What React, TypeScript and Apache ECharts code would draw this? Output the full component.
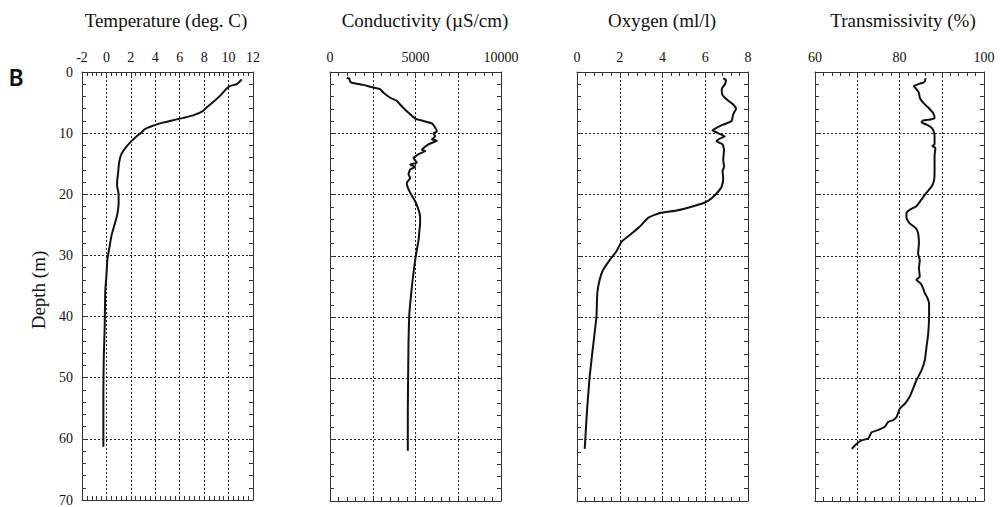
import React, { useEffect, useRef } from "react";
import * as echarts from "echarts";

// Temperature profile (deg. C vs depth m)
const tempDepth = [1.2, 1.6, 2.0, 2.3, 2.8, 3.9, 4.9, 5.8, 6.4, 7.1, 7.5, 8.0, 8.4, 8.8, 9.1, 9.4, 9.9, 10.3, 11.3, 12.2, 13.4, 14.8, 16.4, 18.1, 18.6, 19.7, 21.3, 23.5, 25.2, 26.8, 29.0, 30.6, 33.3, 36.0, 41.5, 46.9, 52.4, 57.8, 61.3];
const tempValues = [11.07, 10.9, 10.65, 10.1, 9.8, 9.3, 8.74, 8.2, 7.9, 7.1, 6.3, 5.2, 4.37, 3.8, 3.4, 3.1, 2.87, 2.6, 2.05, 1.64, 1.23, 1.04, 0.96, 0.87, 0.87, 0.98, 1.0, 0.87, 0.63, 0.41, 0.22, 0.08, 0, -0.1, -0.14, -0.22, -0.25, -0.25, -0.25];

// Conductivity profile (uS/cm)
const condDepth = [0.93, 1.1, 1.5, 1.75, 1.9, 2.1, 2.4, 2.8, 3.4, 4.2, 4.7, 5.3, 6.4, 6.9, 7.6, 8.0, 8.4, 9.1, 9.7, 10.0, 10.5, 11.0, 11.2, 11.8, 12.7, 12.9, 13.4, 13.7, 14.0, 14.8, 15.1, 15.5, 15.9, 16.7, 17.3, 18.1, 18.7, 19.7, 21.1, 22.5, 23.6, 24.7, 25.8, 27.4, 29.0, 30.7, 32.8, 35.0, 37.8, 39.9, 44.3, 49.8, 55.2, 61.8];
const condValues = [980, 1130, 1170, 1270, 1560, 1950, 2340, 2930, 3130, 3520, 3910, 4100, 4490, 4690, 4980, 5470, 5960, 6150, 6250, 6050, 6150, 5960, 6250, 5760, 5370, 5570, 5170, 5040, 4880, 5080, 4690, 4980, 4690, 4590, 4690, 4490, 4530, 4690, 4980, 5180, 5270, 5270, 5230, 5180, 5080, 4980, 4880, 4790, 4690, 4630, 4590, 4570, 4550, 4550];

// Oxygen profile (ml/l)
const oxyDepth = [1.04, 1.3, 2.0, 2.8, 3.7, 4.7, 5.3, 6.0, 6.9, 8.0, 8.6, 9.1, 9.5, 10.0, 10.5, 10.9, 11.3, 11.8, 12.7, 14.3, 15.4, 16.2, 17.3, 18.7, 19.5, 20.6, 21.3, 21.9, 22.6, 23.0, 23.8, 25.2, 26.6, 27.7, 29.3, 30.7, 32.3, 33.9, 36.1, 39.9, 44.8, 49.8, 55.2, 61.5];
const oxyValues = [6.84, 6.97, 6.92, 6.77, 6.8, 7.08, 7.31, 7.44, 7.31, 7.23, 6.84, 6.53, 6.34, 6.61, 6.92, 6.66, 6.53, 6.81, 6.88, 6.84, 6.88, 6.81, 6.84, 6.77, 6.61, 6.3, 5.98, 5.44, 4.66, 3.88, 3.33, 2.94, 2.47, 2.08, 1.84, 1.53, 1.22, 1.06, 0.95, 0.91, 0.75, 0.59, 0.47, 0.36];

// Transmissivity profile (%)
const trDepth = [1.04, 1.5, 1.75, 1.9, 2.3, 2.8, 3.4, 4.2, 5.0, 5.8, 6.7, 7.5, 7.7, 7.9, 8.2, 8.6, 9.1, 9.7, 10.5, 11.8, 12.1, 12.4, 13.7, 15.9, 17.6, 18.7, 19.7, 20.8, 21.9, 22.5, 23.0, 23.8, 24.7, 25.5, 26.3, 27.9, 29.6, 30.7, 32.0, 33.4, 33.9, 34.5, 35.3, 36.1, 36.7, 37.8, 39.9, 42.7, 44.8, 47.0, 48.7, 50.3, 51.7, 53.0, 54.1, 54.9, 56.3, 56.8, 57.1, 57.9, 58.4, 58.8, 59.8, 60.1, 60.7, 61.5];
const trValues = [86.2, 86.0, 85.6, 84.8, 83.4, 84.0, 84.6, 84.8, 85.6, 86.8, 87.95, 88.3, 87.6, 85.6, 85.2, 86.4, 87.6, 88.1, 88.3, 88.3, 87.8, 88.5, 88.3, 88.3, 88.2, 87.6, 86.4, 85.2, 84.0, 82.4, 81.65, 81.65, 82.4, 83.9, 84.4, 84.6, 84.4, 84.8, 84.6, 84.8, 84.0, 85.0, 85.6, 86.0, 86.5, 87.0, 87.0, 86.8, 86.4, 86.0, 85.2, 84.0, 83.2, 82.4, 81.3, 80.1, 79.3, 78.5, 77.3, 76.5, 75.0, 73.4, 72.6, 71.0, 69.8, 68.7];

const titles = ["Temperature (deg. C)", "Conductivity (\u00B5S/cm)", "Oxygen (ml/l)", "Transmissivity (%)"];
const xMins = [-2, 0, 0, 60];
const xMaxs = [12, 10000, 8, 100];
const xIntervals = [2, 2500, 2, 10];
const xLabelSteps = [2, 5000, 2, 20];
const depthMin = 0;
const depthMax = 70;
const depthInterval = 10;
const yAxisTitle = "Depth (m)";
const panelLabel = "B";

const SERIF = "'Liberation Serif', serif";
const INK = "#111";
const FRAME = "#333";

export default function App() {
  const ref = useRef<HTMLDivElement>(null);
  useEffect(() => {
    const chart = echarts.init(ref.current!, null, { renderer: "svg" });
    const lefts = [82, 330, 577, 815];
    const widths = [171, 171, 171, 169];
    const titleCenters = [166, 425, 662, 903];
    const top = 72;
    const height = 429;
    const depths = [tempDepth, condDepth, oxyDepth, trDepth];
    const values = [tempValues, condValues, oxyValues, trValues];

    const grid: any[] = [];
    const xAxis: any[] = [];
    const yAxis: any[] = [];
    const series: any[] = [];
    const graphic: any[] = [];

    const tickCommon = {
      axisLine: { show: true, onZero: false, lineStyle: { color: FRAME, width: 1 } },
      axisTick: { show: true, inside: true, length: 4, lineStyle: { color: FRAME, width: 1 } },
      minorTick: { show: true, splitNumber: 5, length: 4, lineStyle: { color: FRAME, width: 1 } },
    };

    for (let i = 0; i < 4; i++) {
      grid.push({ left: lefts[i], top, width: widths[i], height, containLabel: false });
      const step = xLabelSteps[i];
      const xBase = {
        type: "value",
        gridIndex: i,
        min: xMins[i],
        max: xMaxs[i],
        interval: xIntervals[i],
        ...tickCommon,
      };
      xAxis.push({
        ...xBase,
        position: "top",
        splitLine: { show: true, lineStyle: { color: "#222", type: [2, 2], width: 1 } },
        axisLabel: {
          show: true,
          margin: 8,
          fontFamily: SERIF,
          fontSize: 14,
          color: INK,
          formatter: (v: number) => (Math.abs(v % step) < 1e-9 ? String(v) : ""),
        },
      });
      xAxis.push({
        ...xBase,
        position: "bottom",
        splitLine: { show: false },
        axisLabel: { show: false },
      });
      const yBase = {
        type: "value",
        gridIndex: i,
        min: depthMin,
        max: depthMax,
        interval: depthInterval,
        inverse: true,
        ...tickCommon,
      };
      yAxis.push({
        ...yBase,
        position: "left",
        splitLine: { show: true, lineStyle: { color: "#222", type: [2, 2], width: 1 } },
        axisLabel: {
          show: i === 0,
          margin: 9,
          fontFamily: SERIF,
          fontSize: 14,
          color: INK,
          formatter: (v: number) => String(v),
        },
      });
      yAxis.push({
        ...yBase,
        position: "right",
        splitLine: { show: false },
        axisLabel: { show: false },
      });
      series.push({
        type: "line",
        xAxisIndex: 2 * i,
        yAxisIndex: 2 * i,
        data: depths[i].map((d, j) => [values[i][j], d]),
        showSymbol: false,
        symbol: "none",
        lineStyle: { color: INK, width: 2 },
        smooth: 0.15,
      });
      graphic.push({
        type: "text",
        x: titleCenters[i],
        y: 20,
        style: {
          text: titles[i],
          font: `19px ${SERIF}`,
          fill: INK,
          textAlign: "center",
          textVerticalAlign: "middle",
        },
      });
    }

    graphic.push(
      {
        type: "text",
        x: 16,
        y: 77,
        style: {
          text: panelLabel,
          font: "600 23px 'Noto Sans', 'DejaVu Sans', sans-serif",
          fill: INK,
          textAlign: "center",
          textVerticalAlign: "middle",
        },
      },
      {
        type: "text",
        x: 38,
        y: 290,
        rotation: Math.PI / 2,
        style: {
          text: yAxisTitle,
          font: `19px ${SERIF}`,
          fill: INK,
          textAlign: "center",
          textVerticalAlign: "middle",
        },
      }
    );

    chart.setOption({
      animation: false,
      backgroundColor: "#fff",
      textStyle: { fontFamily: SERIF },
      grid,
      xAxis,
      yAxis,
      series,
      graphic,
    });
    return () => chart.dispose();
  }, []);
  return (
    <div
      ref={ref}
      style={{ position: "absolute", left: 0, top: 0, width: 1004, height: 507 }}
    />
  );
}
